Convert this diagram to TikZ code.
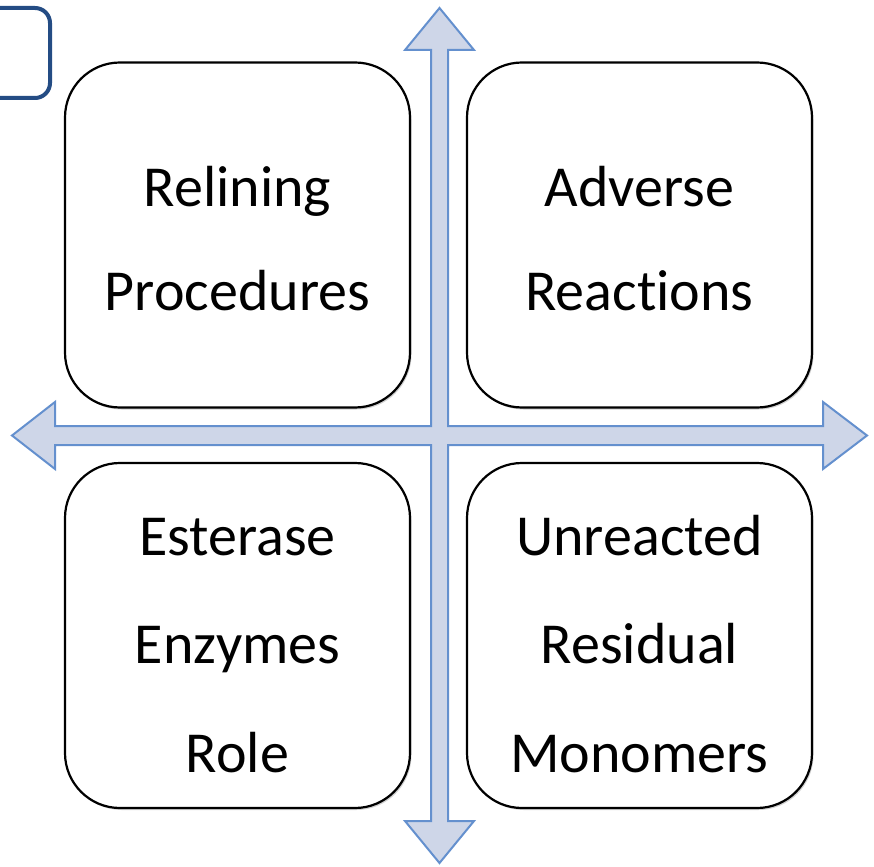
\documentclass[tikz,border=0pt]{standalone}
\usepackage{fontspec}
\setmainfont[Ligatures={NoCommon}]{Carlito}
\usetikzlibrary{shadows}
\definecolor{arrowfill}{RGB}{206,214,232}
\definecolor{arrowline}{RGB}{100,144,206}
\definecolor{darkblue}{RGB}{36,76,132}
\tikzset{
  quadbox/.style={draw=black, line width=2.2pt, fill=white, rounded corners=55pt,
    minimum width=345pt, minimum height=345pt, inner sep=0pt,
    drop shadow={shadow xshift=1.5pt, shadow yshift=-2pt, opacity=0.3, fill=black!60}},
  lbl/.style={font=\fontsize{58}{62}\selectfont, anchor=base, inner sep=0pt},
  quadarrow/.style={fill=arrowfill, draw=arrowline, line width=2pt, line join=miter},
  partbox/.style={draw=darkblue, line width=4pt, rounded corners=15pt, fill=white,
    minimum width=140pt, minimum height=90pt, inner sep=0pt}
}
\begin{document}
\begin{tikzpicture}[x=1pt, y=-1pt]
\useasboundingbox (0,0) rectangle (874,866);
% partial box at top left
\node[partbox] (partial) at (-20,53) {};
% boxes
\node[quadbox] (tl) at (237.5,235) {};
\node[quadbox] (tr) at (639.5,235) {};
\node[quadbox] (bl) at (237.5,635.5) {};
\node[quadbox] (br) at (639.5,635.5) {};
% quad arrow
\draw[quadarrow] (439.5,8) -- (474,50) -- (448,50) -- (448,426) -- (823,426) -- (823,402)
  -- (867,435.5) -- (823,469) -- (823,445) -- (448,445) -- (448,821) -- (474,821)
  -- (439.5,863) -- (405,821) -- (431,821) -- (431,445) -- (55,445) -- (55,469)
  -- (12,435.5) -- (55,402) -- (55,426) -- (431,426) -- (431,50) -- (405,50) -- cycle;
% labels
\node[lbl] (tl1) at (237.5,207) {Relining};
\node[lbl] (tl2) at (237.5,310) {Procedures};
\node[lbl] (tr1) at (639.5,207) {Adverse};
\node[lbl] (tr2) at (639.5,310) {Reactions};
\node[lbl] (bl1) at (237.5,555) {Esterase};
\node[lbl] (bl2) at (237.5,663) {Enzymes};
\node[lbl] (bl3) at (237.5,772) {Role};
\node[lbl] (br1) at (639.5,555) {Unreacted};
\node[lbl] (br2) at (639.5,663) {Residual};
\node[lbl] (br3) at (639.5,772) {Monomers};
\end{tikzpicture}
\end{document}
